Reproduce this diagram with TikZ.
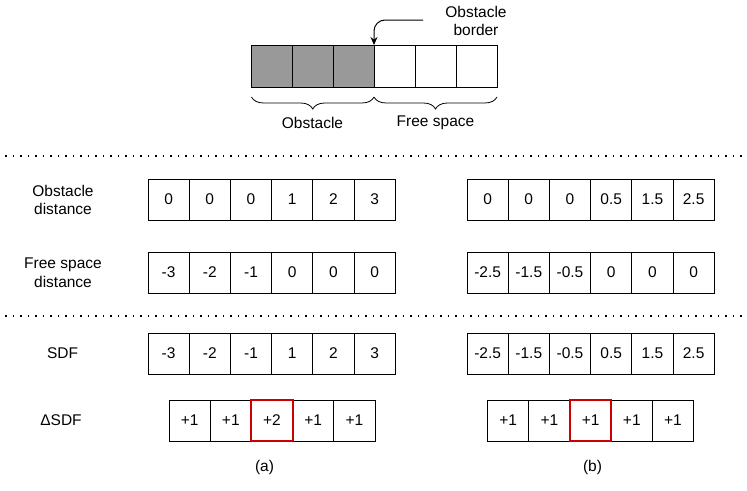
\documentclass[tikz,border=0pt]{standalone}
\usepackage{fontspec}
\setmainfont{Liberation Sans}
\usetikzlibrary{arrows.meta,decorations.pathreplacing}
\definecolor{obsgray}{RGB}{153,153,153}
\definecolor{hired}{RGB}{204,0,0}
\begin{document}
\begin{tikzpicture}[x=1pt,y=-1pt,
  every node/.style={font=\fontsize{15.5}{18.5}\selectfont},
  cell/.style={draw,line width=0.9pt,minimum width=41.2pt,minimum height=41pt,inner sep=0pt,outer sep=0pt},
  topcell/.style={draw,line width=0.9pt,minimum width=41pt,minimum height=42pt,inner sep=0pt,outer sep=0pt},
  hilite/.style={draw=hired,line width=2pt,minimum width=41.2pt,minimum height=41pt,inner sep=0pt,outer sep=0pt},
  rowlabel/.style={align=center,inner sep=0pt},
  sep/.style={line width=1.7pt,dash pattern=on 1.7pt off 5.8pt},
  bracestyle/.style={line width=0.8pt,decorate,decoration={brace,amplitude=12pt,aspect=0.5}}
]
\useasboundingbox (0,0) rectangle (747,490);

% top row
\foreach \i in {1,2,3} {
  \node[topcell,fill=obsgray] (t\i) at ({251+20.5+41*(\i-1)},66) {};
}
\foreach \i in {4,5,6} {
  \node[topcell] (t\i) at ({251+20.5+41*(\i-1)},66) {};
}
\node[align=center,inner sep=0pt] (border) at (476,21) {Obstacle\\border};
\coordinate (arrstart) at (423,20);
\draw[line width=1pt,rounded corners=11pt,-{Stealth[length=8pt,width=7pt]}] (arrstart) -- (374,20) -- (t4.north west);

% braces
\coordinate (b1) at (251.5,97);
\coordinate (b2) at (374,97);
\coordinate (b3) at (497,97);
\draw[bracestyle] (b2) -- (b1);
\draw[bracestyle] (b3) -- (b2);
\node (obs) at (312.5,123) {Obstacle};
\node (free) at (435.5,123) {Free space};

% separators
\coordinate (s1a) at (5,156);
\coordinate (s1b) at (744,156);
\coordinate (s2a) at (5,316);
\coordinate (s2b) at (744,316);
\draw[sep] (s1a) -- (s1b);
\draw[sep] (s2a) -- (s2b);

% row labels
\node[rowlabel] (lod) at (63,200) {Obstacle\\distance};
\node[rowlabel] (lfd) at (63,272.5) {Free space\\distance};
\node[rowlabel] (lsdf) at (62.5,353.5) {SDF};
\node[rowlabel] (ldsdf) at (61,420.5) {ΔSDF};

% (a) rows
\foreach \v [count=\i] in {0,0,0,1,2,3} {
  \node[cell] (aod\i) at ({148+20.6+41.2*(\i-1)},199.5) {\v};
}
\foreach \v [count=\i] in {-3,-2,-1,0,0,0} {
  \node[cell] (afd\i) at ({148+20.6+41.2*(\i-1)},272.5) {\v};
}
\foreach \v [count=\i] in {-3,-2,-1,1,2,3} {
  \node[cell] (asdf\i) at ({148+20.6+41.2*(\i-1)},353.5) {\v};
}
\foreach \v [count=\i] in {+1,+1,+2,+1,+1} {
  \node[cell] (ad\i) at ({169+20.6+41.2*(\i-1)},420.5) {\v};
}
\node[hilite] (ahl) at (ad3) {};
\node (capa) at (264.5,467) {(a)};

% (b) rows
\foreach \v [count=\i] in {0,0,0,0.5,1.5,2.5} {
  \node[cell] (bod\i) at ({467+20.6+41.2*(\i-1)},199.5) {\v};
}
\foreach \v [count=\i] in {-2.5,-1.5,-0.5,0,0,0} {
  \node[cell] (bfd\i) at ({467+20.6+41.2*(\i-1)},272.5) {\v};
}
\foreach \v [count=\i] in {-2.5,-1.5,-0.5,0.5,1.5,2.5} {
  \node[cell] (bsdf\i) at ({467+20.6+41.2*(\i-1)},353.5) {\v};
}
\foreach \v [count=\i] in {+1,+1,+1,+1,+1} {
  \node[cell] (bd\i) at ({487.6+20.6+41.2*(\i-1)},420.5) {\v};
}
\node[hilite] (bhl) at (bd3) {};
\node (capb) at (592.5,467) {(b)};
\end{tikzpicture}
\end{document}
